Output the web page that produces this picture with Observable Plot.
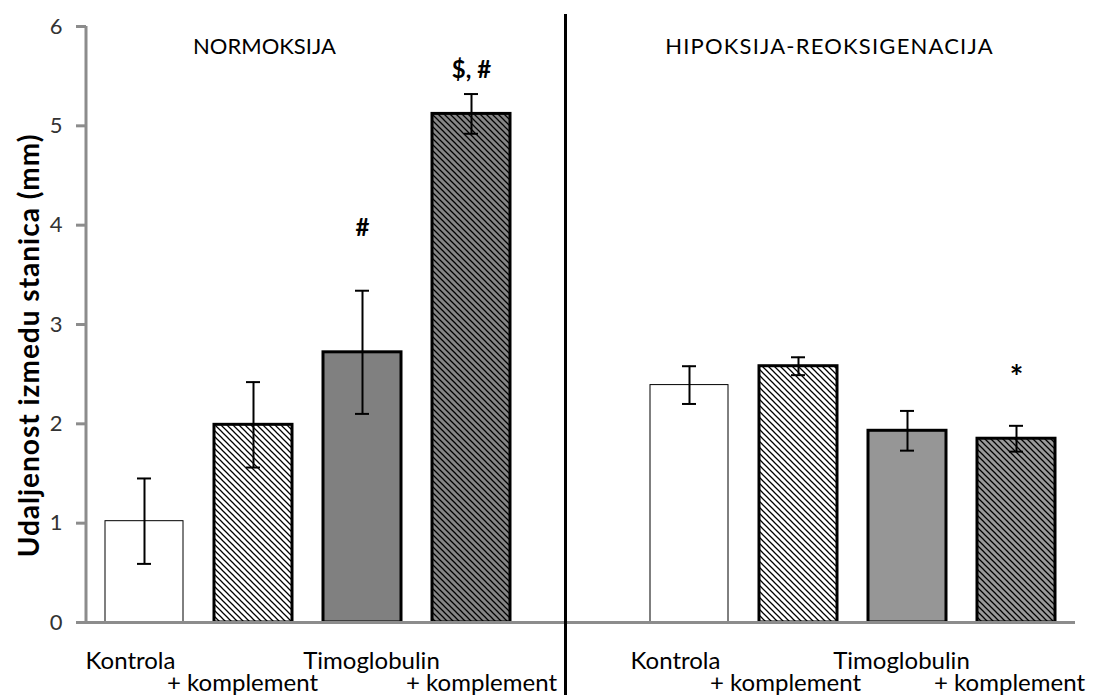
<!DOCTYPE html>
<html><head><meta charset="utf-8">
<script src="https://cdn.jsdelivr.net/npm/d3@7"></script>
<script src="https://cdn.jsdelivr.net/npm/@observablehq/plot@0.6"></script>
<style>body{margin:0;background:#fff} #chart svg{display:block}</style>
</head><body><div id="chart"></div>
<script>
// ---- data ----
const groups = ["NORMOKSIJA", "HIPOKSIJA-REOKSIGENACIJA"];
const conditions = ["Kontrola", "+ komplement", "Timoglobulin", "+ komplement"];
const normoksijaMean = [1.02, 1.99, 2.72, 5.12];
const normoksijaErr = [0.43, 0.43, 0.62, 0.20];
const hipoksijaMean = [2.39, 2.58, 1.93, 1.85];
const hipoksijaErr = [0.19, 0.09, 0.20, 0.13];
const normoksijaSig = ["", "", "#", "$, #"];
const hipoksijaSig = ["", "", "", "*"];
const yTicks = [0, 1, 2, 3, 4, 5, 6];
const yLabel = "Udaljenost izmedu stanica (mm)";

// ---- styles / layout ----
const fillsN = ["#ffffff", "url(#hatchLight)", "#808080", "url(#hatchDark)"];
const fillsH = ["#ffffff", "url(#hatchLight)", "#969696", "url(#hatchDark2)"];
const strokeWidths = [1, 3, 3, 3];
const labelRow = [0, 1, 0, 1];
const labelNudgeN = [-14, -11, 9, 10];
const labelNudgeH = [-14, -13, -6, -7];
const sigLift = [0, 0, 0.63, 0.24];
const sigLiftH = [0, 0, 0, 0.55];

const rows = [];
[[normoksijaMean, normoksijaErr, normoksijaSig, fillsN, labelNudgeN, sigLift],
 [hipoksijaMean, hipoksijaErr, hipoksijaSig, fillsH, labelNudgeH, sigLiftH]].forEach(([m, e, s, f, nudge, lift], g) => {
  conditions.forEach((c, i) => rows.push({
    key: g + "-" + i, group: groups[g], label: c, mean: m[i], err: e[i], sig: s[i],
    fill: f[i], sw: strokeWidths[i], row: labelRow[i], nudge: nudge[i], lift: lift[i]
  }));
});
const domain = ["0-0", "0-1", "0-2", "0-3", "gap", "1-0", "1-1", "1-2", "1-3"];
const FONT = "Lato, 'Open Sans', sans-serif";

const chart = Plot.plot({
  width: 1096,
  height: 695,
  marginLeft: 86,
  marginRight: 21,
  marginTop: 26,
  marginBottom: 73,
  style: {fontFamily: FONT, fontSize: "22px", color: "#000", background: "#fff"},
  x: {domain, paddingInner: 0.28, paddingOuter: 0.14, axis: null},
  y: {domain: [0, 6], axis: null},
  color: {type: "identity"},
  marks: [
    Plot.barY(rows, {x: "key", y: "mean", fill: "fill", stroke: "#000", strokeWidth: "sw"}),
    Plot.ruleX(rows, {x: "key", y1: d => d.mean - d.err, y2: d => d.mean + d.err, stroke: "#000", strokeWidth: 2}),
    Plot.tickY(rows, {x: "key", y: d => d.mean + d.err, insetLeft: 32, insetRight: 32, stroke: "#000", strokeWidth: 2}),
    Plot.tickY(rows, {x: "key", y: d => d.mean - d.err, insetLeft: 32, insetRight: 32, stroke: "#000", strokeWidth: 2}),
    Plot.ruleY([0], {stroke: "#8c8c8c", strokeWidth: 3}),
    Plot.axisY(yTicks, {tickSize: 10, tickPadding: 14, tickFormat: d3.format("d"), stroke: "#8c8c8c", strokeWidth: 3, fill: "#333", fontSize: 22, label: null}),
    Plot.text([yLabel], {frameAnchor: "left", textAnchor: "middle", rotate: -90, dx: -56, dy: 21, fontWeight: "bold", fontSize: 28, fill: "#000", className: "ylab"}),
    ...rows.filter(d => d.sig).map(d => Plot.text([d], {x: "key", y: r => r.mean + r.err + r.lift, text: "sig", fontWeight: "bold", fontSize: d.sig === "*" ? 32 : 24, dy: d.sig === "*" ? 8 : 0, fill: "#000", lineAnchor: "middle"})),
    ...rows.map(d => Plot.text([d], {x: "key", y: 0, text: "label", dx: d.nudge, dy: d.row ? 61 : 39, fontSize: 24, fill: "#000", lineAnchor: "middle"})),
    Plot.text([groups[0]], {x: ["0-1"], y: [5.79], dx: 11, fontSize: 22, fill: "#000", lineAnchor: "middle"}),
    Plot.text([groups[1]], {x: ["1-1"], y: [5.79], dx: 31, fontSize: 22, fill: "#000", lineAnchor: "middle", className: "hrtitle"}),
    Plot.ruleX(["gap"], {x: d => d, y1: 6.12, y2: -0.75, dx: -15, stroke: "#000", strokeWidth: 3})
  ]
});

// patterns + y-axis line + letter spacing
const svg = d3.select(chart);
const defs = svg.insert("defs", ":first-child");
function hatch(id, bg) {
  const p = defs.append("pattern").attr("id", id).attr("patternUnits", "userSpaceOnUse")
    .attr("width", 6).attr("height", 6);
  p.append("rect").attr("width", 6).attr("height", 6).attr("fill", bg);
  p.append("path").attr("d", "M-1,-1L7,7M-1,5L1,7M5,-1L7,1").attr("stroke", "#000").attr("stroke-width", 1.25);
}
hatch("hatchLight", "#ffffff");
hatch("hatchDark", "#868686");
hatch("hatchDark2", "#9a9a9a");
svg.selectAll(".ylab text").style("letter-spacing", "1px");
svg.selectAll(".hrtitle text").style("letter-spacing", "1.2px");
const ys = chart.scale("y"), xs = chart.scale("x");
svg.append("line").attr("x1", xs.range[0]).attr("x2", xs.range[0])
  .attr("y1", ys.apply(6)).attr("y2", ys.apply(0))
  .attr("stroke", "#8c8c8c").attr("stroke-width", 3);
document.getElementById("chart").appendChild(chart);
</script></body></html>
